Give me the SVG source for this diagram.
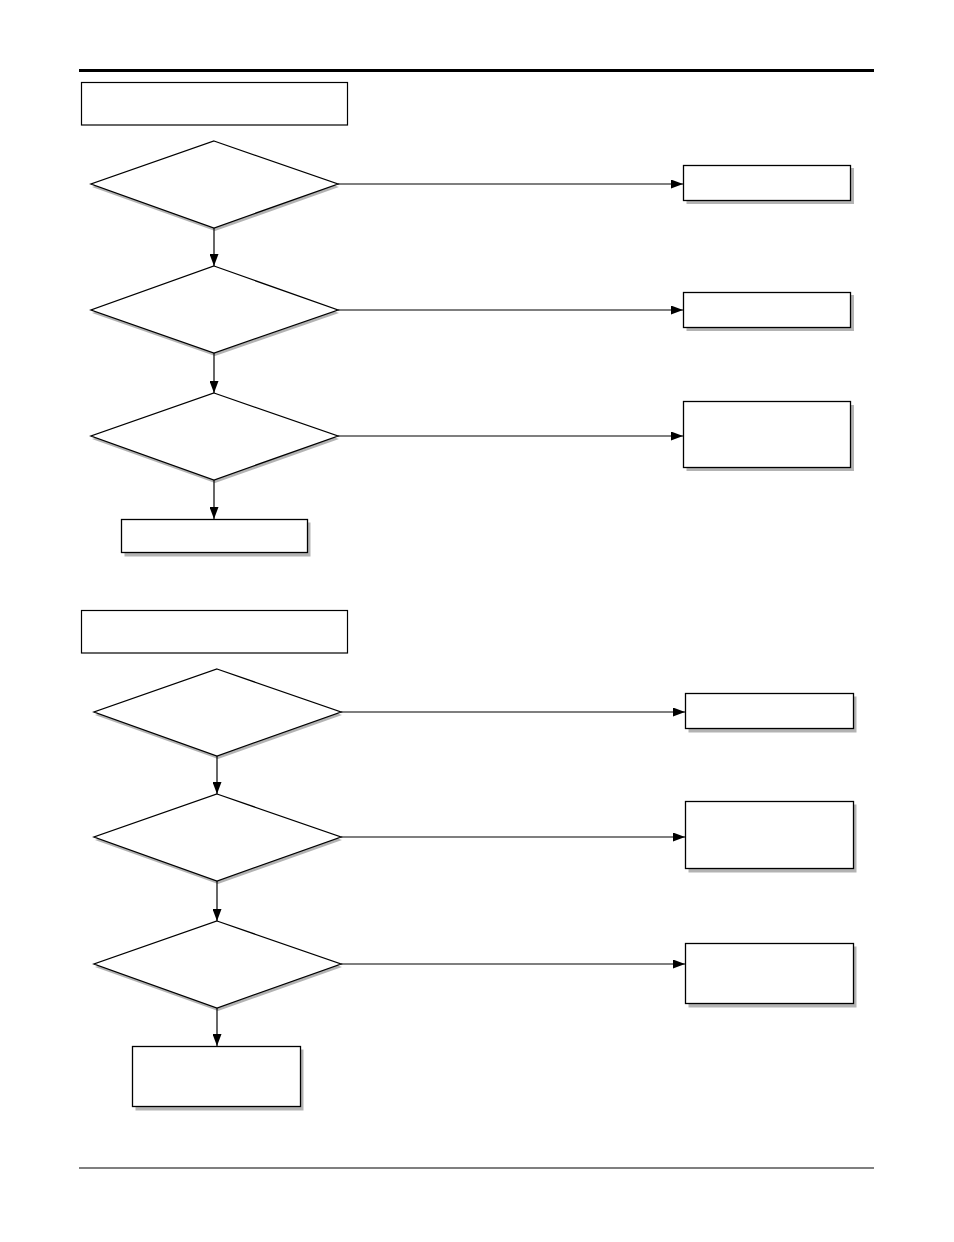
<svg xmlns="http://www.w3.org/2000/svg" width="954" height="1242" viewBox="0 0 954 1242">
<defs>
<marker id="arr" viewBox="0 0 12 9" refX="12" refY="4.5" markerWidth="12" markerHeight="9" markerUnits="userSpaceOnUse" orient="auto">
<path d="M0,0 L12,4.5 L0,9 Z" fill="#000"/>
</marker>
</defs>
<style>
.sh{fill:#b3b3b3;stroke:none}
.nd{fill:#fff;stroke:#000;stroke-width:1.3}
.hd{fill:#fff;stroke:#000;stroke-width:1.2}
.cn{stroke:#000;stroke-width:1.2;fill:none;marker-end:url(#arr)}
</style>
<rect width="954" height="1242" fill="#fff"/>
<line x1="79" y1="70.5" x2="874" y2="70.5" stroke="#000" stroke-width="3"/>
<line x1="79" y1="1168" x2="874" y2="1168" stroke="#000" stroke-width="1.2"/>

<g id="header1"><rect class="hd" x="81.5" y="82.5" width="266" height="42.5"/></g>
<g id="d1"><polygon class="sh" points="215,144 339,187 215,231 92,187"/><polygon class="nd" points="214,141 338,184 214,228 91,184"/></g>
<g id="b1"><rect class="sh" x="686.5" y="168" width="167.5" height="36"/><rect class="nd" x="683.5" y="165.5" width="167" height="35"/></g>
<g id="d2"><polygon class="sh" points="215,269 339,313 215,356 92,313"/><polygon class="nd" points="214,266 338,310 214,353 91,310"/></g>
<g id="b2"><rect class="sh" x="686.5" y="295" width="167.5" height="36"/><rect class="nd" x="683.5" y="292.5" width="167" height="35"/></g>
<g id="d3"><polygon class="sh" points="215,396 339,439 215,483 92,439"/><polygon class="nd" points="214,393 338,436 214,480 91,436"/></g>
<g id="b3"><rect class="sh" x="686.5" y="405" width="167.5" height="66"/><rect class="nd" x="683.5" y="401.5" width="167" height="66"/></g>
<g id="b4"><rect class="sh" x="124.5" y="522.5" width="186" height="34"/><rect class="nd" x="121.5" y="519.5" width="186" height="33"/></g>

<g id="header2"><rect class="hd" x="81.5" y="610.5" width="266" height="42.5"/></g>
<g id="d4"><polygon class="sh" points="218,672 342,715 218,759 95,715"/><polygon class="nd" points="217,669 341,712 217,756 94,712"/></g>
<g id="b5"><rect class="sh" x="688.5" y="696.5" width="168" height="36"/><rect class="nd" x="685.5" y="693.5" width="168" height="35"/></g>
<g id="d5"><polygon class="sh" points="218,797 342,840 218,884 95,840"/><polygon class="nd" points="217,794 341,837 217,881 94,837"/></g>
<g id="b6"><rect class="sh" x="688.5" y="804.5" width="168" height="68"/><rect class="nd" x="685.5" y="801.5" width="168" height="67"/></g>
<g id="d6"><polygon class="sh" points="218,924 342,967 218,1011 95,967"/><polygon class="nd" points="217,921 341,964 217,1008 94,964"/></g>
<g id="b7"><rect class="sh" x="688.5" y="946.5" width="168" height="61"/><rect class="nd" x="685.5" y="943.5" width="168" height="60"/></g>
<g id="b8"><rect class="sh" x="135.5" y="1049.5" width="168" height="61"/><rect class="nd" x="132.5" y="1046.5" width="168" height="60"/></g>

<g id="connectors">
<line class="cn" x1="338" y1="184" x2="683" y2="184"/>
<line class="cn" x1="214" y1="228" x2="214" y2="266"/>
<line class="cn" x1="338" y1="310" x2="683" y2="310"/>
<line class="cn" x1="214" y1="353" x2="214" y2="393"/>
<line class="cn" x1="338" y1="436" x2="683" y2="436"/>
<line class="cn" x1="214" y1="480" x2="214" y2="519"/>
<line class="cn" x1="341" y1="712" x2="685" y2="712"/>
<line class="cn" x1="217" y1="756" x2="217" y2="794"/>
<line class="cn" x1="341" y1="837" x2="685" y2="837"/>
<line class="cn" x1="217" y1="881" x2="217" y2="921"/>
<line class="cn" x1="341" y1="964" x2="685" y2="964"/>
<line class="cn" x1="217" y1="1008" x2="217" y2="1046"/>
</g>
</svg>
